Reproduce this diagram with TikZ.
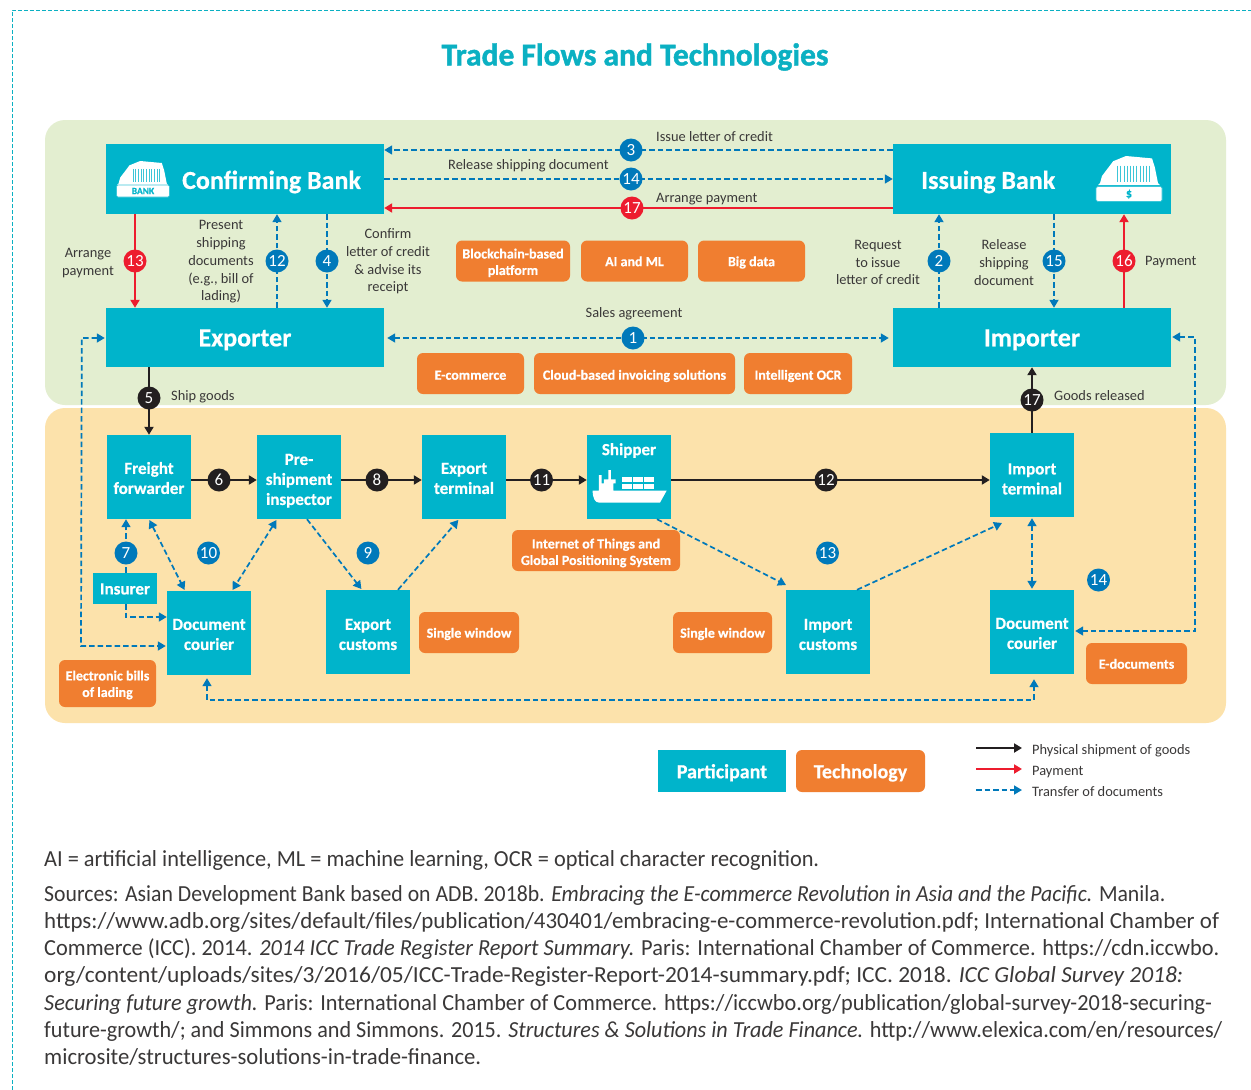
\documentclass[tikz,border=0pt]{standalone}
\usepackage{fontspec}
\usepackage{graphicx}
\setmainfont{Carlito}[BoldFeatures={FakeBold=0.5}]
\newfontfamily\titlef[FakeBold=1.3]{Carlito Bold}
\usetikzlibrary{arrows.meta}
\definecolor{teal}{HTML}{00B4CB}
\definecolor{titleteal}{HTML}{0BB0C2}
\definecolor{orng}{HTML}{F07E30}
\definecolor{greenbg}{HTML}{E3EED0}
\definecolor{peachbg}{HTML}{FCE2AB}
\definecolor{blu}{HTML}{0079BA}
\definecolor{redd}{HTML}{ED1C2E}
\definecolor{blk}{HTML}{231F20}
\definecolor{txt}{HTML}{3A3838}
\definecolor{lightcy}{HTML}{3CC6D8}
\newcommand{\fs}[2]{\fontsize{#1}{#2}\selectfont}
\newcommand{\ctx}[2][2.5]{\raisebox{\dimexpr-#1pt-0.25em\relax}[0pt][0pt]{\begin{tabular}{@{}c@{}}#2\end{tabular}}}
\tikzset{
  panel/.style={rounded corners=20pt},
  part/.style={fill=teal,text=white,font=\bfseries\fs{17}{20},align=center,inner sep=0pt},
  bigpart/.style={part,font=\bfseries\fs{26}{30}},
  tech/.style={fill=orng,text=white,rounded corners=6pt,font=\bfseries\fs{14}{16.5},align=center,inner sep=0pt},
  lab/.style={text=txt,font=\fs{14.4}{17.7},align=center,inner sep=0pt},
  labl/.style={lab,anchor=base west},
  badge/.style={circle,minimum size=23pt,inner sep=0pt,text=white,font=\fs{17}{17}},
  bblue/.style={badge,fill=blu},
  bred/.style={badge,fill=redd},
  bblack/.style={badge,fill=blk},
  docline/.style={draw=blu,line width=1.7pt,dash pattern=on 5.5pt off 3pt,-{Triangle[length=8pt,width=9pt]}},
  docboth/.style={docline,{Triangle[length=8pt,width=9pt]}-{Triangle[length=8pt,width=9pt]}},
  payline/.style={draw=redd,line width=2pt,-{Triangle[length=8pt,width=9pt]}},
  goodsline/.style={draw=blk,line width=2pt,-{Triangle[length=8pt,width=9pt]}},
  fnote/.style={anchor=base west,inner sep=0pt,text=txt,font=\fs{23}{25}}
}
\newcommand{\temple}[3]{% origin x,y ; scale
  \begin{scope}[shift={(#1,#2)},x=#3pt,y=-#3pt]
    \fill[white] (-5,73) -- (0,68) -- (5,50) -- (33,13) -- (65,0) -- (130,6) -- (137,28) -- (145,68) -- (150,73) -- cycle;
    \foreach \q in {44,52,60,68,76,84,92,100,108,116,124}
      \draw[lightcy,line width=1pt] (\q,24) -- (\q,64);
  \end{scope}}
\begin{document}
\begin{tikzpicture}[x=1pt,y=-1pt]
\useasboundingbox (0,0) rectangle (1251,1090);
\fill[white] (0,0) rectangle (1251,1090);
\draw[titleteal,line width=0.9pt,dash pattern=on 4pt off 2pt] (12,1090) -- (12,10) -- (1251,10);
\node[inner sep=0pt,text=titleteal,font=\titlef\fs{31.5}{33}] (title) at (635,57) {Trade Flows and Technologies};
\fill[greenbg,panel] (45,120) rectangle (1226,405);
\fill[peachbg,panel] (45,408) rectangle (1226,723);

% participants
\node[bigpart,minimum width=278pt,minimum height=70pt] (cb) at (245,179) {};
\node[bigpart,fill=none,anchor=west] (cbt) at (182,182) {Confirming Bank};
\node[bigpart,minimum width=278pt,minimum height=59pt] (exp) at (245,337.5) {\ctx{Exporter}};
\node[bigpart,minimum width=278pt,minimum height=70pt] (ib) at (1032,179) {};
\node[bigpart,fill=none,anchor=west] (ibt) at (921,182) {Issuing Bank};
\node[bigpart,minimum width=278pt,minimum height=59pt] (imp) at (1032,337.5) {\ctx{Importer}};
\node[part,minimum size=84pt] (ff) at (149,477) {\ctx[3]{Freight\\forwarder}};
\node[part,minimum size=84pt] (psi) at (299,477) {\ctx[4]{Pre-\\shipment\\inspector}};
\node[part,minimum size=84pt] (et) at (464,477) {\ctx[3]{Export\\terminal}};
\node[part,minimum size=84pt] (ship) at (629,477) {};
\node[part,fill=none,anchor=north] (shipt) at (629,443) {Shipper};
\node[part,minimum size=84pt] (it) at (1032,475) {\ctx[5.5]{Import\\terminal}};
\node[part,minimum width=64pt,minimum height=31pt] (ins) at (125,588.5) {\ctx[2]{Insurer}};
\node[part,minimum size=84pt] (dc) at (209,633) {\ctx[3]{Document\\courier}};
\node[part,minimum size=84pt] (ec) at (368,632) {\ctx[4]{Export\\customs}};
\node[part,minimum size=84pt] (ic) at (828,632) {\ctx[4]{Import\\customs}};
\node[part,minimum size=84pt] (dc2) at (1032,632) {\ctx[3]{Document\\courier}};

% technologies
\node[tech,minimum width=114pt,minimum height=41pt] (t1) at (513,261) {\ctx{Blockchain-based\\platform}};
\node[tech,minimum width=107pt,minimum height=41pt] (t2) at (634.5,261) {\ctx[2]{AI and ML}};
\node[tech,minimum width=107pt,minimum height=41pt] (t3) at (751.5,261) {\ctx[2]{Big data}};
\node[tech,minimum width=107pt,minimum height=41pt] (t4) at (470.5,373.5) {\ctx[3]{E-commerce}};
\node[tech,minimum width=201pt,minimum height=41pt] (t5) at (634.5,373.5) {\ctx[3]{Cloud-based invoicing solutions}};
\node[tech,minimum width=108pt,minimum height=41pt] (t6) at (798,373.5) {\ctx[3]{Intelligent OCR}};
\node[tech,minimum width=168pt,minimum height=41pt] (t7) at (596,550.5) {\ctx[3]{Internet of Things and\\Global Positioning System}};
\node[tech,minimum width=100pt,minimum height=41pt] (t8) at (469,632.5) {\ctx[2]{Single window}};
\node[tech,minimum width=99pt,minimum height=41pt] (t9) at (722.5,632.5) {\ctx[2]{Single window}};
\node[tech,minimum width=97pt,minimum height=47pt] (t10) at (107.5,683.5) {\ctx[2]{Electronic bills\\of lading}};
\node[tech,minimum width=101pt,minimum height=41pt] (t11) at (1136.5,663.5) {\ctx[2]{E-documents}};

% icons
\temple{118.5}{161}{0.333}
\node[fill=white,draw=lightcy,line width=0.7pt,rounded corners=1.5pt,minimum width=53pt,minimum height=12pt,inner sep=0pt,text=teal,font=\bfseries\fs{9.5}{10}] (bankbase) at (143,191) {\ctx[1]{BANK}};
\temple{1100}{156}{0.4}
\node[fill=white,draw=lightcy,line width=0.7pt,rounded corners=1.5pt,minimum width=66pt,minimum height=15pt,inner sep=0pt,text=teal,font=\bfseries\fs{12}{12}] (dollarbase) at (1129,194) {\ctx[1]{\$}};
\begin{scope}[shift={(500,420)},x=0.3333pt,y=-0.3333pt]
  \fill[white] (278,212) -- (297,212) -- (297,165) -- (305,165) -- (305,190) -- (312,190) -- (312,178) -- (325,178) -- (325,150) -- (333,150) -- (333,178) -- (347,178) -- (347,190) -- (340,190) -- (340,212) -- (500,212) -- (480,248) -- (298,248) .. controls (285,248) and (278,235) .. (278,212) -- cycle;
  \foreach \cx in {366,400,433} \foreach \cy in {171,191}
    \fill[white] (\cx,\cy) rectangle ++(30,16);
\end{scope}

% connectors
\coordinate (shipend) at (786,585);
\coordinate (icend) at (1002,523);
\draw[docline] (ib.west |- 0,150) -- (cb.east |- 0,150);
\draw[docline] (cb.east |- 0,179) -- (ib.west |- 0,179);
\draw[payline] (ib.west |- 0,208) -- (cb.east |- 0,208);
\draw[payline] (135,0 |- cb.south) -- (135,0 |- exp.north);
\draw[docline] (277,0 |- exp.north) -- (277,0 |- cb.south);
\draw[docline] (327,0 |- cb.south) -- (327,0 |- exp.north);
\draw[docline] (939,0 |- imp.north) -- (939,0 |- ib.south);
\draw[docline] (1054,0 |- ib.south) -- (1054,0 |- imp.north);
\draw[payline] (1124,0 |- imp.north) -- (1124,0 |- ib.south);
\draw[docboth,shorten <=3pt,shorten >=4pt] (exp.east |- 0,338) -- (imp.west |- 0,338);
\draw[goodsline] (149,0 |- exp.south) -- (ff.north);
\draw[goodsline] (it.north) -- (imp.south);
\draw[goodsline] (ff.east |- 0,480) -- (psi.west |- 0,480);
\draw[goodsline] (psi.east |- 0,480) -- (et.west |- 0,480);
\draw[goodsline] (et.east |- 0,480) -- (ship.west |- 0,480);
\draw[goodsline] (ship.east |- 0,480) -- (it.west |- 0,480);
\draw[docline] (126,0 |- ins.north) -- (126,0 |- ff.south);
\draw[docline] (126,0 |- ins.south) |- (dc.west |- 0,617);
\draw[docboth,shorten <=1pt,shorten >=1pt] (exp.west |- 0,338) -- ++(-24,0) -- (81,646) -- (dc.west |- 0,646);
\draw[docboth,shorten <=1pt,shorten >=1pt] (149,0 |- ff.south) -- (185,0 |- dc.north);
\draw[docboth,shorten <=1pt,shorten >=1pt] (277,0 |- psi.south) -- (232,0 |- dc.north);
\draw[docline,shorten >=1pt] (307,0 |- psi.south) -- (362,0 |- ec.north);
\draw[docline,shorten >=1pt] (398,0 |- ec.north) -- (459,0 |- et.south);
\draw[docline] (657,0 |- ship.south) -- (shipend);
\draw[docline] (857,0 |- ic.north) -- (icend);
\draw[docboth,shorten <=1pt,shorten >=1pt] (it.south) -- (dc2.north);
\draw[docboth,shorten <=1pt,shorten >=1pt] (imp.east |- 0,337) -- (1195,337) -- (1195,631) -- (dc2.east |- 0,631);
\draw[docboth,shorten <=3pt,shorten >=5pt] (207,0 |- dc.south) -- (207,700) -- (1034,700) -- (1034,0 |- dc2.south);

% badges
\node[bblue] (b3) at (631,150) {3};
\node[bblue] (b14) at (631,179) {14};
\node[bred] (b17r) at (632,208) {17};
\node[bred] (b13) at (135,261) {13};
\node[bblue] (b12) at (277,261) {12};
\node[bblue] (b4) at (327,261) {4};
\node[bblue] (b2) at (939,261) {2};
\node[bblue] (b15) at (1054,261) {15};
\node[bred] (b16) at (1124,261) {16};
\node[bblue] (b1) at (633,338) {1};
\node[bblack] (b5) at (149,398) {5};
\node[bblack] (b17k) at (1032,400) {17};
\node[bblack] (b6) at (219,480) {6};
\node[bblack] (b8) at (377,480) {8};
\node[bblack] (b11) at (541.5,480) {11};
\node[bblack] (b12k) at (826,480) {12};
\node[bblue] (b7) at (126,553) {7};
\node[bblue] (b10) at (208.5,553) {10};
\node[bblue] (b9) at (368,553) {9};
\node[bblue] (b13b) at (827.5,553) {13};
\node[bblue] (b14b) at (1098.5,580) {14};

% labels
\node[labl] (l1) at (656,141) {Issue letter of credit};
\node[labl] (l2) at (448,169) {Release shipping document};
\node[labl] (l3) at (656,202) {Arrange payment};
\node[lab] (l4) at (634,313.5) {Sales agreement};
\node[labl] (l5) at (171,400) {Ship goods};
\node[labl] (l6) at (1054,400) {Goods released};
\node[labl] (l7) at (1145,265) {Payment};
\node[lab] (l8) at (88,263) {Arrange\\payment};
\node[lab] (l9) at (221,262) {Present\\shipping\\documents\\(e.g., bill of\\lading)};
\node[lab] (l10) at (388,261.5) {Confirm\\letter of credit\\\& advise its\\receipt};
\node[lab] (l11) at (878,262.5) {Request\\to issue\\letter of credit};
\node[lab] (l12) at (1004,262.5) {Release\\shipping\\document};

% legend
\node[part,font=\bfseries\fs{20}{22},minimum width=128pt,minimum height=42pt] (lgp) at (722,771) {\ctx[3]{Participant}};
\node[tech,font=\bfseries\fs{20}{22},minimum width=129pt,minimum height=42pt] (lgt) at (860.5,771) {\ctx[3]{Technology}};
\coordinate (k1a) at (976,748); \coordinate (k1b) at (1022,748);
\coordinate (k2a) at (976,769); \coordinate (k2b) at (1022,769);
\coordinate (k3a) at (976,790); \coordinate (k3b) at (1022,790);
\draw[goodsline] (k1a) -- (k1b);
\draw[payline] (k2a) -- (k2b);
\draw[docline] (k3a) -- (k3b);
\node[labl] (k1t) at (1032,754) {Physical shipment of goods};
\node[labl] (k2t) at (1032,775) {Payment};
\node[labl] (k3t) at (1032,796) {Transfer of documents};

% notes
\node[fnote] (f0) at (44,866) {\resizebox{775pt}{\height}{AI = artificial intelligence, ML = machine learning, OCR = optical character recognition.}};
\node[fnote] (f1) at (44,901) {\resizebox{1121pt}{\height}{Sources: Asian Development Bank based on ADB. 2018b. \textit{Embracing the E-commerce Revolution in Asia and the Pacific.} Manila.}};
\node[fnote] (f2) at (44,928) {\resizebox{1175pt}{\height}{https://www.adb.org/sites/default/files/publication/430401/embracing-e-commerce-revolution.pdf; International Chamber of}};
\node[fnote] (f3) at (44,955) {\resizebox{1175pt}{\height}{Commerce (ICC). 2014. \textit{2014 ICC Trade Register Report Summary.} Paris: International Chamber of Commerce. https://cdn.iccwbo.}};
\node[fnote] (f4) at (44,982) {\resizebox{1139pt}{\height}{org/content/uploads/sites/3/2016/05/ICC-Trade-Register-Report-2014-summary.pdf; ICC. 2018. \textit{ICC Global Survey 2018:}}};
\node[fnote] (f5) at (44,1010) {\resizebox{1168pt}{\height}{\textit{Securing future growth.} Paris: International Chamber of Commerce. https://iccwbo.org/publication/global-survey-2018-securing-}};
\node[fnote] (f6) at (44,1037) {\resizebox{1178pt}{\height}{future-growth/; and Simmons and Simmons. 2015. \textit{Structures \& Solutions in Trade Finance.} http://www.elexica.com/en/resources/}};
\node[fnote] (f7) at (44,1064) {\resizebox{437pt}{\height}{microsite/structures-solutions-in-trade-finance.}};
\end{tikzpicture}
\end{document}
